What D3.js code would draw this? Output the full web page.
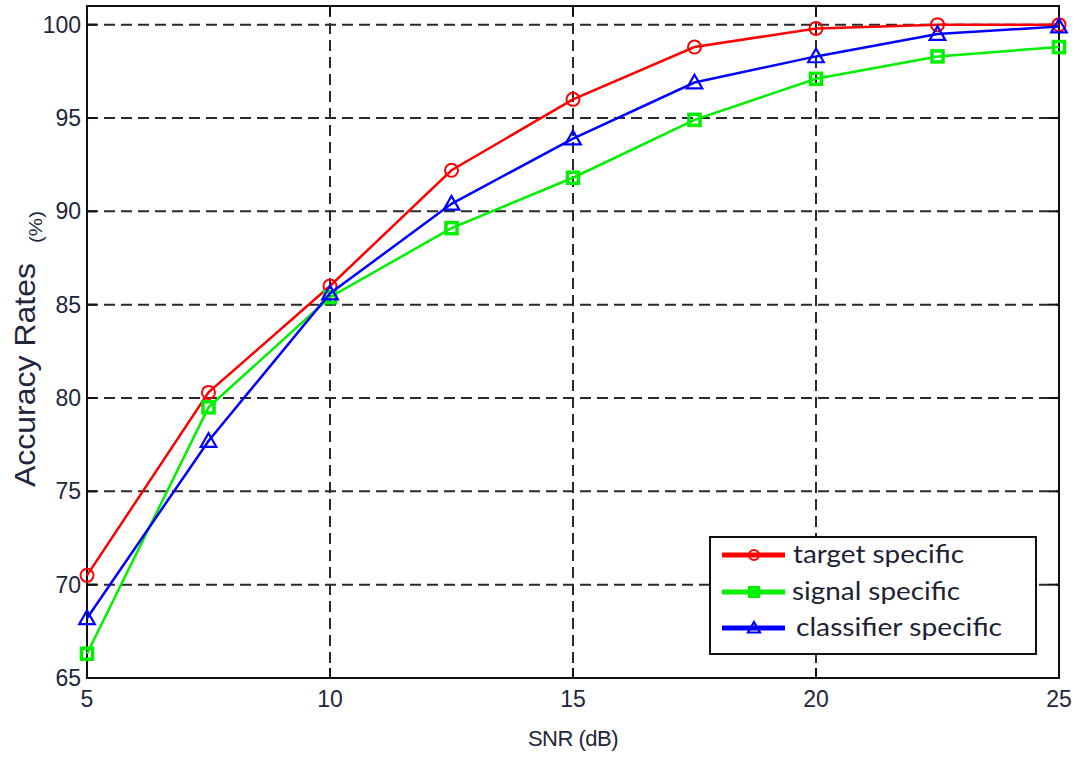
<!DOCTYPE html>
<meta charset="utf-8">
<style>
  body { margin: 0; background: #fff; }
  svg { display: block; }
  .tick-label { font-family: "Liberation Sans", Arial, sans-serif; font-size: 23px; fill: #22263a; }
  .legend text { font-family: Lato, "Open Sans", sans-serif; font-size: 25px; fill: #1c2233; }
</style>
<body>
<svg id="chart" width="1085" height="765"></svg>
<script src="https://d3js.org/d3.v7.min.js"></script>
<script>
  const snr = [5, 7.5, 10, 12.5, 15, 17.5, 20, 22.5, 25];
  const targetSpecific = [70.5, 80.3, 86.0, 92.2, 96.0, 98.8, 99.8, 100.0, 100.0];
  const signalSpecific = [66.3, 79.5, 85.4, 89.1, 91.8, 94.9, 97.1, 98.3, 98.8];
  const classifierSpecific = [68.2, 77.7, 85.6, 90.4, 93.9, 96.9, 98.3, 99.5, 99.9];
  const xTicks = [5, 10, 15, 20, 25];
  const yTicks = [65, 70, 75, 80, 85, 90, 95, 100];
  const seriesNames = ["target specific", "signal specific", "classifier specific"];
  const seriesColors = ["#ff0000", "#00f000", "#0000ff"];
  const seriesMarkers = ["circle", "square", "triangle"];

  const svg = d3.select("#chart");
  const plotL = 87, plotR = 1059, plotT = 6, plotB = 678;

  const x = d3.scaleLinear().domain([5, 25]).range([plotL, plotR]);
  const y = d3.scaleLinear().domain([65, 101]).range([plotB, plotT]);

  // grid
  const grid = svg.append("g")
    .attr("stroke", "#2a2a2a").attr("stroke-width", 2)
    .attr("stroke-dasharray", "11,6");
  grid.selectAll(".gx").data(xTicks.filter(d => d > 5 && d < 25)).join("line")
    .attr("class", "gx")
    .attr("x1", d => x(d)).attr("x2", d => x(d))
    .attr("y1", plotT).attr("y2", plotB);
  grid.selectAll(".gy").data(yTicks.filter(d => d > 65)).join("line")
    .attr("class", "gy")
    .attr("y1", d => y(d)).attr("y2", d => y(d))
    .attr("x1", plotL).attr("x2", plotR);

  // tick marks (inside, all four sides)
  const ticks = svg.append("g").attr("stroke", "#111").attr("stroke-width", 2);
  xTicks.forEach(t => {
    ticks.append("line").attr("x1", x(t)).attr("x2", x(t)).attr("y1", plotB).attr("y2", plotB - 10);
    ticks.append("line").attr("x1", x(t)).attr("x2", x(t)).attr("y1", plotT).attr("y2", plotT + 10);
  });
  yTicks.forEach(t => {
    ticks.append("line").attr("y1", y(t)).attr("y2", y(t)).attr("x1", plotL).attr("x2", plotL + 10);
    ticks.append("line").attr("y1", y(t)).attr("y2", y(t)).attr("x1", plotR).attr("x2", plotR - 10);
  });

  // frame
  svg.append("rect")
    .attr("x", plotL).attr("y", plotT)
    .attr("width", plotR - plotL).attr("height", plotB - plotT)
    .attr("fill", "none").attr("stroke", "#111").attr("stroke-width", 2);

  // tick labels
  svg.append("g").selectAll("text").data(xTicks).join("text")
    .attr("class", "tick-label")
    .attr("x", d => x(d)).attr("y", plotB + 29)
    .attr("text-anchor", "middle")
    .text(d => d);
  svg.append("g").selectAll("text").data(yTicks).join("text")
    .attr("class", "tick-label")
    .attr("x", plotL - 6).attr("y", d => y(d) + 8)
    .attr("text-anchor", "end")
    .text(d => d);

  // axis titles
  svg.append("text")
    .attr("class", "tick-label")
    .attr("x", x(15)).attr("y", 746)
    .attr("text-anchor", "middle")
    .style("font-size", "22px")
    .style("letter-spacing", "-0.5px")
    .text("SNR (dB)");

  svg.append("text")
    .attr("transform", "translate(35,375) rotate(-90)")
    .attr("text-anchor", "middle")
    .attr("textLength", 224)
    .attr("lengthAdjust", "spacingAndGlyphs")
    .style("font-family", "'Liberation Sans', Arial, sans-serif")
    .style("font-size", "29px")
    .style("fill", "#22263a")
    .text("Accuracy Rates");
  svg.append("text")
    .attr("transform", "translate(42,227) rotate(-90)")
    .attr("text-anchor", "middle")
    .attr("textLength", 32)
    .attr("lengthAdjust", "spacingAndGlyphs")
    .style("font-family", "'Liberation Sans', Arial, sans-serif")
    .style("font-size", "18px")
    .style("fill", "#22263a")
    .text("(%)");

  function drawMarker(g, kind, cx, cy, color, size) {
    if (kind === "circle") {
      g.append("circle").attr("cx", cx).attr("cy", cy).attr("r", size * 0.5)
        .attr("fill", "none").attr("stroke", color).attr("stroke-width", 2);
    } else if (kind === "square") {
      const s = size * 0.85;
      g.append("rect").attr("x", cx - s / 2).attr("y", cy - s / 2)
        .attr("width", s).attr("height", s)
        .attr("fill", "none").attr("stroke", color).attr("stroke-width", 3.5);
    } else {
      const h = size * 1.0, w = size * 1.2;
      g.append("path")
        .attr("d", `M${cx},${cy - h * 0.6}L${cx + w / 2},${cy + h * 0.45}L${cx - w / 2},${cy + h * 0.45}Z`)
        .attr("fill", "none").attr("stroke", color).attr("stroke-width", 2.2);
    }
  }

  const allSeries = [targetSpecific, signalSpecific, classifierSpecific];
  const line = d3.line().x(d => x(d[0])).y(d => y(d[1]));

  allSeries.forEach((vals, i) => {
    const pts = snr.map((s, j) => [s, vals[j]]);
    const g = svg.append("g");
    g.append("path").datum(pts)
      .attr("d", line)
      .attr("fill", "none")
      .attr("stroke", seriesColors[i])
      .attr("stroke-width", 2.5);
    pts.forEach(p => drawMarker(g, seriesMarkers[i], x(p[0]), y(p[1]), seriesColors[i], 13));
  });

  // legend
  const legend = svg.append("g").attr("class", "legend");
  legend.append("rect")
    .attr("x", 710).attr("y", 537).attr("width", 326).attr("height", 117)
    .attr("fill", "#fff").attr("stroke", "#111").attr("stroke-width", 2);
  const rowY = [555, 592, 628];
  const textX = [793, 792, 796];
  const textW = [171, 168, 206];
  seriesNames.forEach((name, i) => {
    legend.append("line")
      .attr("x1", 722).attr("x2", 785)
      .attr("y1", rowY[i]).attr("y2", rowY[i])
      .attr("stroke", seriesColors[i]).attr("stroke-width", 5);
    drawMarker(legend, seriesMarkers[i], 754, rowY[i], seriesColors[i], 10);
    legend.append("text")
      .attr("x", textX[i]).attr("y", rowY[i] + 8)
      .attr("textLength", textW[i])
      .attr("lengthAdjust", "spacingAndGlyphs")
      .text(name);
  });
</script>
</body>
